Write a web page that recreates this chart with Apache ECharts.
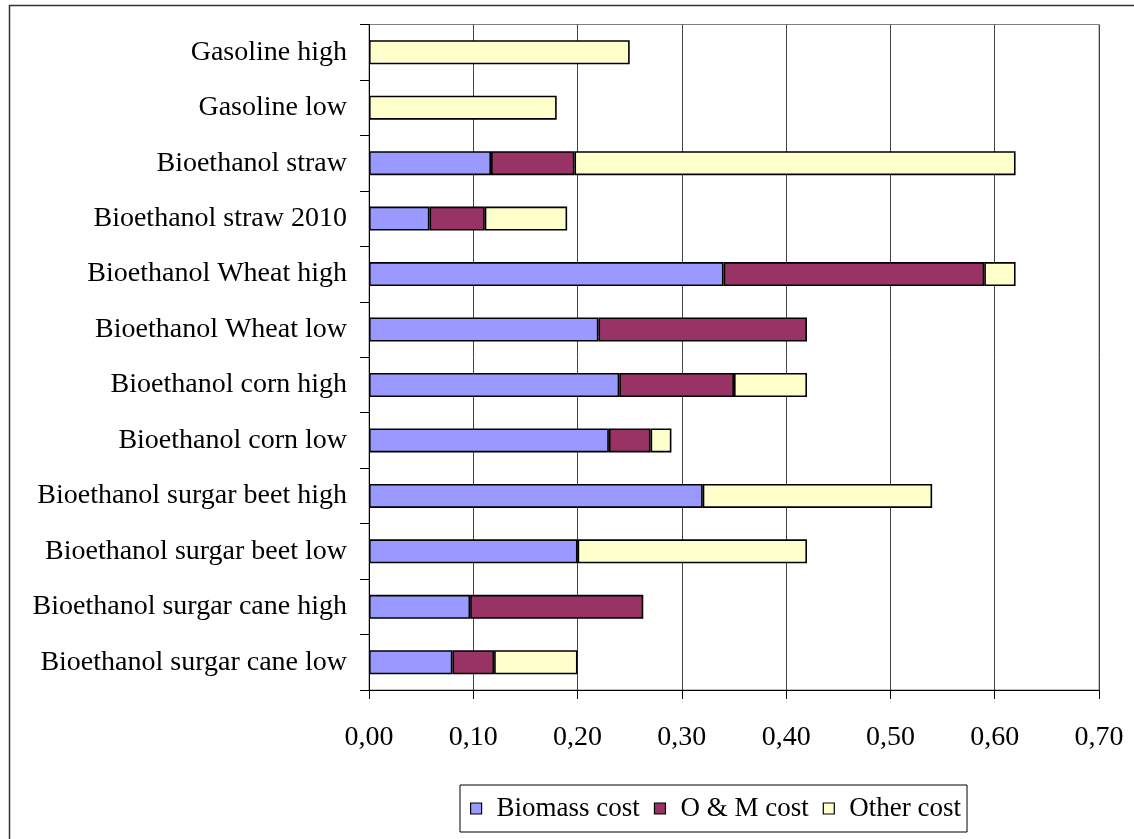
<!DOCTYPE html>
<html>
<head>
<meta charset="utf-8">
<title>Bioethanol and gasoline production cost</title>
<script src="https://cdn.jsdelivr.net/npm/echarts@6/dist/echarts.min.js"></script>
<style>
  html, body { margin: 0; padding: 0; background: #fff; }
  #chart { width: 1134px; height: 839px; }
</style>
</head>
<body>
<div id="chart"></div>
<script>
// Categories, listed top to bottom
const categories = [
  'Gasoline high',
  'Gasoline low',
  'Bioethanol straw',
  'Bioethanol straw 2010',
  'Bioethanol Wheat high',
  'Bioethanol Wheat low',
  'Bioethanol corn high',
  'Bioethanol corn low',
  'Bioethanol surgar beet high',
  'Bioethanol surgar beet low',
  'Bioethanol surgar cane high',
  'Bioethanol surgar cane low'
];

// Cost components (stacked); null = component not present
const biomassCost = [null, null, 0.117, 0.058, 0.34, 0.22, 0.24, 0.23, 0.32, 0.20, 0.097, 0.08];
const omCost      = [null, null, 0.08, 0.053, 0.25, 0.20, 0.11, 0.04, null, null, 0.166, 0.04];
const otherCost   = [0.25, 0.18, 0.423, 0.079, 0.03, null, 0.07, 0.02, 0.22, 0.22, null, 0.08];

const seriesNames = ['Biomass cost', 'O & M cost', 'Other cost'];
const seriesColors = ['#9999FF', '#993366', '#FFFFCC'];

const xTicks = { min: 0, max: 0.7, interval: 0.1 };

const FONT = '"Liberation Serif", "Times New Roman", serif';

const chart = echarts.init(document.getElementById('chart'), null, { renderer: 'canvas' });

function barSeries(name, data, color) {
  return {
    name: name,
    type: 'bar',
    stack: 'cost',
    data: data,
    barWidth: 24,
    itemStyle: { color: color, borderColor: '#000', borderWidth: 1.6 },
    emphasis: { disabled: true }
  };
}

chart.setOption({
  animation: false,
  backgroundColor: '#fff',
  textStyle: { fontFamily: FONT },
  graphic: [{
    type: 'rect',
    shape: { x: 9.5, y: 5.5, width: 1200, height: 900 },
    style: { fill: 'none', stroke: '#333', lineWidth: 1.5 },
    silent: true,
    z: -1
  }],
  grid: {
    left: 369,
    right: 35,
    top: 24.5,
    bottom: 149,
    show: true,
    borderColor: '#808080',
    borderWidth: 1,
    backgroundColor: 'transparent'
  },
  legend: {
    left: 460,
    top: 785,
    data: seriesNames,
    icon: 'rect',
    itemWidth: 11,
    itemHeight: 11,
    itemGap: 14,
    padding: [10, 6, 10, 10],
    borderColor: '#000',
    borderWidth: 1,
    selectedMode: false,
    itemStyle: { borderColor: '#000', borderWidth: 1.2 },
    textStyle: { fontFamily: FONT, fontSize: 27, color: '#000', padding: [0, 0, 0, 10] }
  },
  xAxis: {
    type: 'value',
    min: xTicks.min,
    max: xTicks.max,
    interval: xTicks.interval,
    axisLine: { show: true, lineStyle: { color: '#000', width: 1 } },
    axisTick: { show: true, length: 9, lineStyle: { color: '#000' } },
    splitLine: { show: true, lineStyle: { color: '#444', width: 1 } },
    axisLabel: {
      margin: 34,
      fontFamily: FONT,
      fontSize: 28,
      color: '#000',
      formatter: v => v.toFixed(2).replace('.', ',')
    }
  },
  yAxis: {
    type: 'category',
    data: categories,
    inverse: true,
    axisLine: { show: true, lineStyle: { color: '#000', width: 1 } },
    axisTick: { show: true, length: 9, lineStyle: { color: '#000' } },
    splitLine: { show: false },
    axisLabel: {
      margin: 22,
      fontFamily: FONT,
      fontSize: 28,
      color: '#000'
    }
  },
  series: [
    barSeries(seriesNames[0], biomassCost, seriesColors[0]),
    barSeries(seriesNames[1], omCost, seriesColors[1]),
    barSeries(seriesNames[2], otherCost, seriesColors[2])
  ]
});
</script>
</body>
</html>
